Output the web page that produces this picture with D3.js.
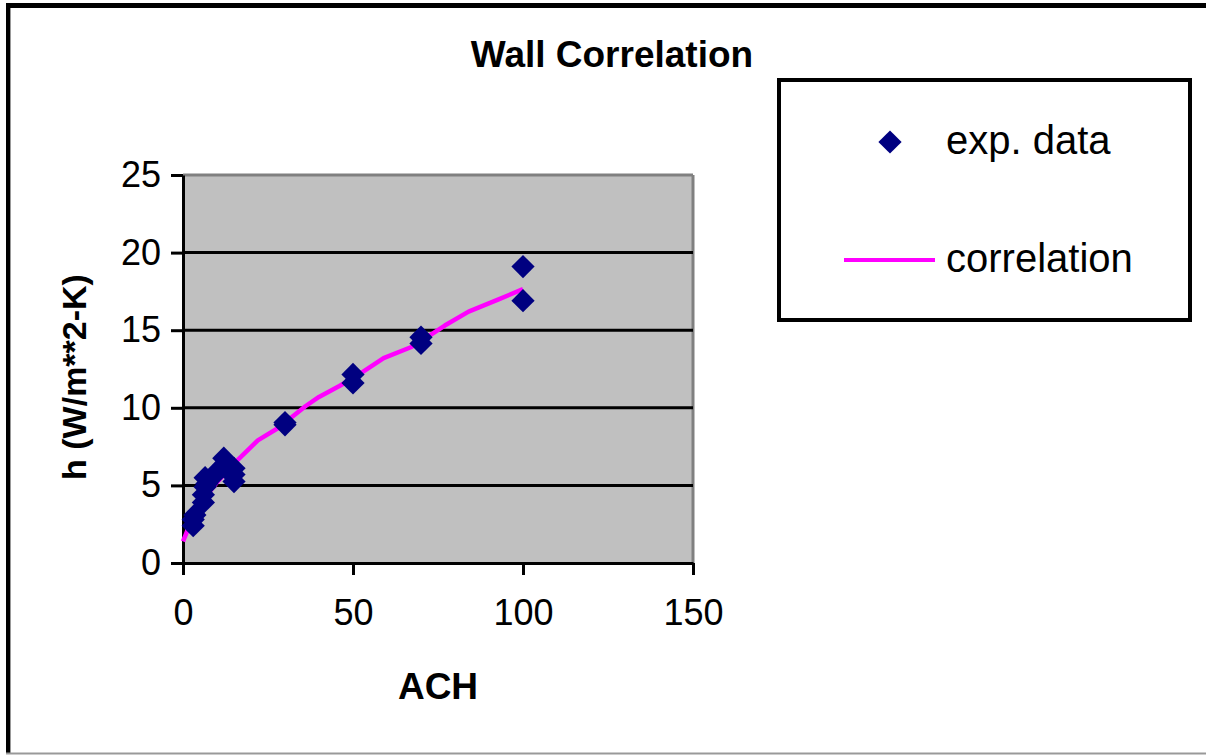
<!DOCTYPE html>
<html>
<head>
<meta charset="utf-8">
<script src="https://cdn.jsdelivr.net/npm/d3@7"></script>
<style>
  html, body { margin: 0; padding: 0; background: #fff; }
  svg { display: block; }
  text { font-family: "Liberation Sans", Arial, sans-serif; fill: #000; }
</style>
</head>
<body>
<svg id="chart" width="1206" height="755"></svg>
<script>
// ---- data ----
const expACH = [3, 3, 3.5, 6, 6, 6.5, 6.5, 7, 9, 10, 12, 12, 13, 15, 15, 15, 30, 30, 50, 50, 70, 70, 100, 100];
const expH   = [2.4, 2.8, 3.1, 3.9, 4.4, 4.9, 5.5, 5.1, 5.6, 5.9, 6.75, 6.3, 6.0, 5.25, 5.7, 6.1, 9.05, 8.9, 11.6, 12.15, 14.15, 14.55, 16.9, 19.1];
const corrACH = [0, 3, 6, 10, 15, 22, 28, 36, 40, 46, 50, 59, 67, 70, 77, 84, 93, 100];
const corrH   = [1.4, 3.0, 4.1, 5.2, 6.4, 7.9, 8.7, 10.1, 10.7, 11.4, 11.9, 13.2, 13.9, 14.3, 15.3, 16.2, 17.0, 17.65];
const xTicks = [0, 50, 100, 150];
const yTicks = [0, 5, 10, 15, 20, 25];
const titleText = "Wall Correlation";
const xLabel = "ACH";
const yLabel = "h (W/m**2-K)";
const legendLabels = ["exp. data", "correlation"];

const svg = d3.select("#chart");

// outer frame
svg.append("rect").attr("x", 6).attr("y", 3).attr("width", 1200).attr("height", 5).attr("fill", "#000");
svg.append("rect").attr("x", 6).attr("y", 3).attr("width", 4).attr("height", 750).attr("fill", "#000");
svg.append("line").attr("x1", 10.5).attr("x2", 10.5).attr("y1", 8).attr("y2", 753).attr("stroke", "#999").attr("stroke-width", 1);
svg.append("line").attr("x1", 6).attr("x2", 1206).attr("y1", 753.5).attr("y2", 753.5).attr("stroke", "#999").attr("stroke-width", 2);

const x = d3.scaleLinear().domain([0, 150]).range([183, 693]);
const y = d3.scaleLinear().domain([0, 25]).range([563, 175]);

// plot area
svg.append("rect").attr("x", x(0)).attr("y", y(25)).attr("width", x(150) - x(0)).attr("height", y(0) - y(25)).attr("fill", "#C0C0C0");
svg.append("line").attr("x1", x(0)).attr("x2", x(150)).attr("y1", y(25)).attr("y2", y(25)).attr("stroke", "#808080").attr("stroke-width", 3);
svg.append("line").attr("x1", x(150)).attr("x2", x(150)).attr("y1", y(25)).attr("y2", y(0)).attr("stroke", "#808080").attr("stroke-width", 3);

// gridlines
svg.append("g").selectAll("line").data(yTicks.filter(d => d > 0 && d < 25)).join("line")
  .attr("x1", x(0)).attr("x2", x(150)).attr("y1", d => y(d)).attr("y2", d => y(d))
  .attr("stroke", "#000").attr("stroke-width", 3);

// axes
const yAxis = svg.append("g").attr("transform", `translate(${x(0)},0)`)
  .call(d3.axisLeft(y).tickValues(yTicks).tickSize(12).tickPadding(10).tickSizeOuter(0));
const xAxis = svg.append("g").attr("transform", `translate(0,${y(0)})`)
  .call(d3.axisBottom(x).tickValues(xTicks).tickSize(12).tickPadding(24).tickSizeOuter(0));
[yAxis, xAxis].forEach(g => {
  g.select(".domain").attr("stroke", "#000").attr("stroke-width", 3);
  g.selectAll(".tick line").attr("stroke", "#000").attr("stroke-width", 3);
  g.selectAll(".tick text").attr("font-size", 36).attr("font-family", "Liberation Sans, Arial, sans-serif").attr("fill", "#000");
});
xAxis.selectAll(".tick text").attr("dy", "0.71em");

// correlation line
const line = d3.line().x((d, i) => x(corrACH[i])).y((d, i) => y(corrH[i]));
svg.append("path").datum(corrH).attr("d", line)
  .attr("fill", "none").attr("stroke", "#FF00FF").attr("stroke-width", 4.5).attr("stroke-linejoin", "round");

// exp data diamonds
const diamond = d3.symbol().type(d3.symbolSquare).size(270);
svg.append("g").selectAll("path").data(expH).join("path")
  .attr("d", diamond)
  .attr("transform", (d, i) => `translate(${x(expACH[i])},${y(d)}) rotate(45)`)
  .attr("fill", "#000080");

// title and axis labels
svg.append("text").attr("x", 612).attr("y", 67).attr("text-anchor", "middle")
  .attr("font-size", 37).attr("font-weight", "bold").text(titleText);
svg.append("text").attr("x", 438).attr("y", 699).attr("text-anchor", "middle")
  .attr("font-size", 37).attr("font-weight", "bold").text(xLabel);
svg.append("text").attr("transform", "translate(86,377) rotate(-90)").attr("text-anchor", "middle")
  .attr("font-size", 34).attr("font-weight", "bold").text(yLabel);

// legend
const lg = svg.append("g");
lg.append("rect").attr("x", 779).attr("y", 80).attr("width", 411).attr("height", 240)
  .attr("fill", "#fff").attr("stroke", "#000").attr("stroke-width", 4);
lg.append("path").attr("d", diamond).attr("transform", "translate(890,142) rotate(45)").attr("fill", "#000080");
lg.append("line").attr("x1", 844).attr("x2", 935).attr("y1", 260).attr("y2", 260).attr("stroke", "#FF00FF").attr("stroke-width", 4);
lg.selectAll("text").data(legendLabels).join("text")
  .attr("x", 946).attr("y", (d, i) => i === 0 ? 154 : 272)
  .attr("font-size", 40).text(d => d);
</script>
</body>
</html>
